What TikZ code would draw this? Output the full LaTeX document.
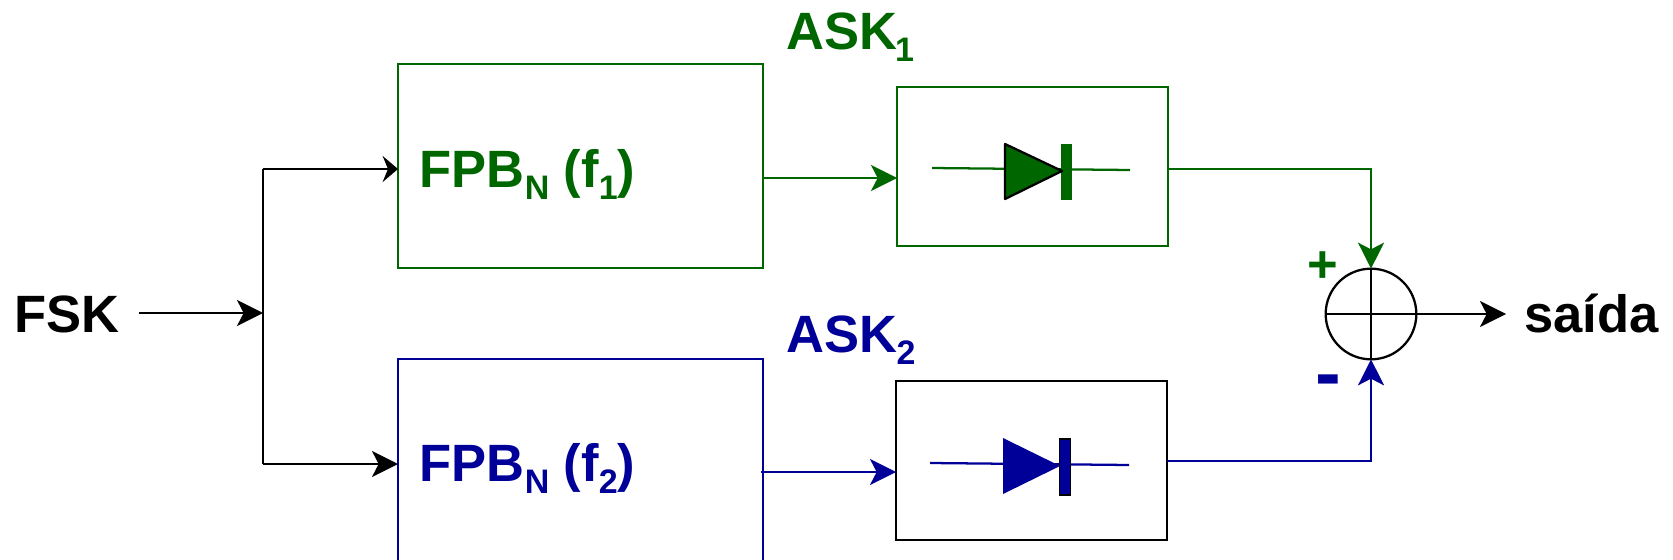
\documentclass[tikz,border=0pt]{standalone}
\usepackage{fontspec}
\setmainfont{Liberation Sans}
\usetikzlibrary{arrows.meta}
\definecolor{dgreen}{HTML}{006600}
\definecolor{dblue}{HTML}{000099}
\newcommand{\lowsub}[1]{\raisebox{-9pt}{\fontsize{25.5}{25.5}\selectfont #1}}
\tikzset{
  x=0.75pt,y=-0.75pt,
  conn/.style={line width=1.7pt,-{Stealth[length=19.5pt,width=19.5pt,inset=5pt]}},
  shortconn/.style={line width=1.7pt,-{Stealth[length=11.5pt,width=19.5pt,inset=4pt]}},
  wire/.style={line width=1.7pt},
  boxa/.style={draw,line width=1.7pt,outer sep=0pt,minimum width=273.75pt,minimum height=153pt,inner sep=0pt},
  boxb/.style={draw,line width=1.7pt,outer sep=0pt,minimum width=203.25pt,minimum height=119pt,inner sep=0pt},
  lab/.style={font=\fontsize{39.4}{39.4}\selectfont\bfseries,inner sep=0pt,anchor=base west},
}
\begin{document}
\begin{tikzpicture}
\useasboundingbox (0,0) rectangle (1673,560);
% blocks
\node[boxa,dgreen,anchor=north west] (fa) at (398,64) {};
\node[boxa,dblue,anchor=north west] (fb) at (398,359) {};
\node[boxb,dgreen,anchor=north west] (da) at (897,87) {};
\node[boxb,black,anchor=north west] (db) at (896,381) {};
\node[draw,circle,line width=1.7pt,outer sep=0pt,minimum size=68pt,inner sep=0pt] (sum) at (1371,314) {};
\draw[wire] (sum.north) -- (sum.south);
\draw[wire] (sum.west) -- (sum.east);
% labels
\node[lab] (fsk) at (14.5,332) {FSK};
\node[lab] (saida) at (1524,332) {saída};
\node[lab,dgreen] (la) at (419.5,187) {FPB\lowsub{N} (f\lowsub{1})};
\node[lab,dblue] (lb) at (419.5,481) {FPB\lowsub{N} (f\lowsub{2})};
\node[lab,dgreen] (aa) at (786,50) {ASK\kern-1.5pt\lowsub{1}};
\node[lab,dblue] (ab) at (786,352.5) {ASK\kern-0.5pt\lowsub{2}};
\node[lab,dgreen] (plus) at (1307,282) {+};
\node[lab,dblue] (minus) at (1315,399) {\fontsize{58}{58}\selectfont -};
% junctions
\coordinate (j) at (263,313);
\coordinate (jt) at (263,169);
\coordinate (jb) at (263,464);
\coordinate (ga) at (1371,169);
\coordinate (gb) at (1371,461);
\coordinate (ua) at (764,178);
\coordinate (ub) at (761,472);
% connectors
\draw[conn,shorten <=14pt] (fsk.east |- j) -- (j);
\draw[wire] (jt) -- (jb);
\draw[shortconn] (jt) -- (fa.west |- jt);
\draw[conn] (jb) -- (fb.west |- jb);
\draw[conn,dgreen] (ua) -- (da.west |- ua);
\draw[conn,dblue] (ub) -- (db.west |- ub);
\draw[conn,dgreen] (da.east |- ga) -- (ga) -- (sum.north);
\draw[conn,dblue] (db.east |- gb) -- (gb) -- (sum.south);
\draw[conn,shorten >=13.5pt] (sum.east) -- (saida.west |- sum);
% diode 1
\draw[wire,dgreen] (932,168) -- (1130,170);
\fill[dgreen] (1061,144) rectangle (1072,200);
\draw[fill=dgreen,line width=1.7pt,line join=round] (1005,144) -- (1062,171) -- (1005,199) -- cycle;
% diode 2
\draw[wire,dblue] (930,463) -- (1129,465);
\fill[dblue,line join=round] (1003,438) -- (1060,466) -- (1003,494) -- cycle;
\draw[fill=dblue,line width=1pt] (1059.5,439) rectangle (1070.5,495);
\end{tikzpicture}
\end{document}
